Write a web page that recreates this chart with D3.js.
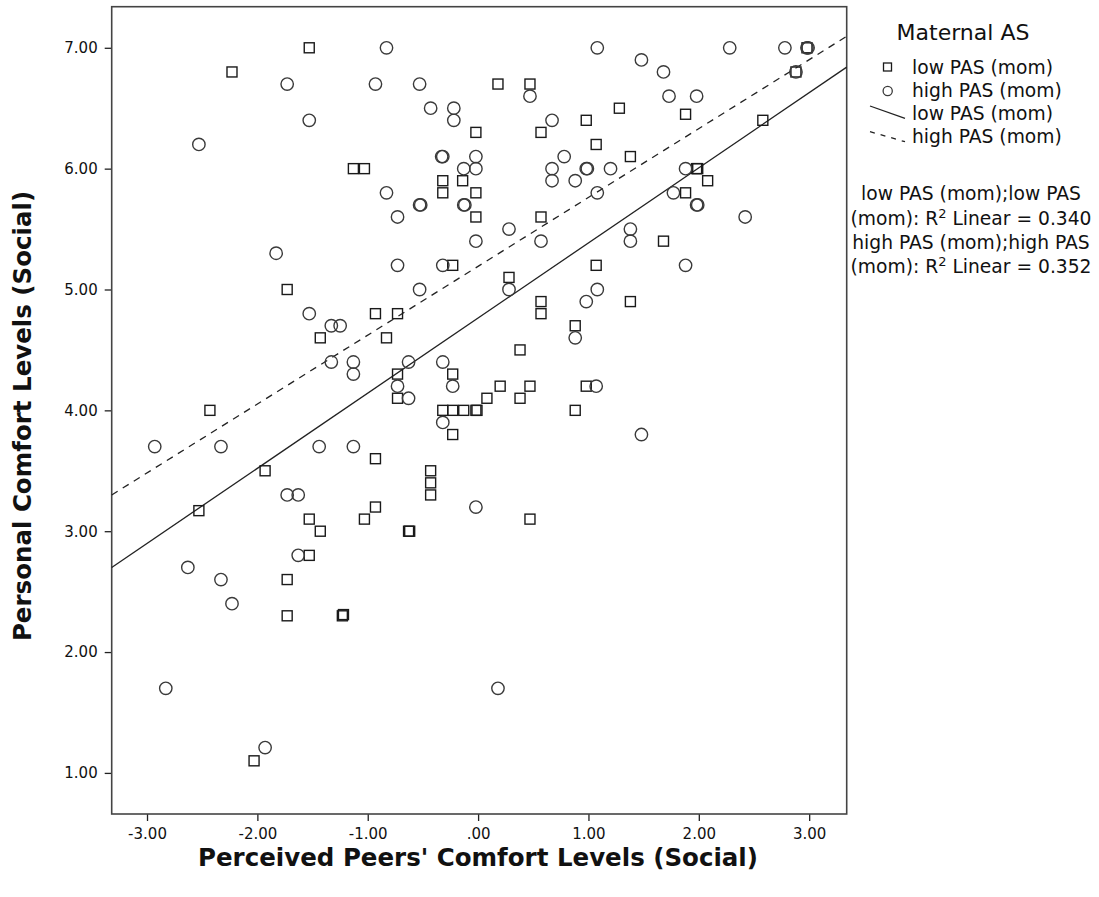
<!DOCTYPE html>
<html>
<head>
<meta charset="utf-8">
<script src="https://cdn.jsdelivr.net/npm/d3@7"></script>
<style>
  body { margin: 0; background: #fff; }
  svg { display: block; font-family: "DejaVu Sans", sans-serif; }
</style>
</head>
<body>
<div id="chart"></div>
<script>
// low PAS (mom) -> squares, [peers, personal]
const lowPAS = [
  [-1.53, 7.0], [-2.23, 6.8], [-1.13, 6.0], [-1.03, 6.0], [0.18, 6.7], [0.47, 6.7],
  [0.98, 6.4], [-0.02, 6.3], [0.57, 6.3], [1.07, 6.2], [-0.32, 5.9], [-0.14, 5.9],
  [-0.32, 5.8], [-0.02, 5.8], [-0.02, 5.6], [0.57, 5.6], [-0.23, 5.2], [0.28, 5.1],
  [1.07, 5.2], [2.88, 6.8], [2.98, 7.0], [1.28, 6.5], [1.88, 6.45], [2.58, 6.4],
  [1.38, 6.1], [1.98, 6.0], [1.99, 6.0], [2.08, 5.9], [1.88, 5.8], [1.68, 5.4],
  [-1.73, 5.0], [-1.43, 4.6], [-2.43, 4.0], [-1.93, 3.5], [-2.53, 3.17], [-1.53, 3.1],
  [-1.43, 3.0], [-1.03, 3.1], [0.57, 4.9], [0.57, 4.8], [0.88, 4.7], [-0.93, 4.8],
  [-0.73, 4.8], [-0.83, 4.6], [-0.73, 4.3], [-0.23, 4.3], [-0.73, 4.1], [0.2, 4.2],
  [0.47, 4.2], [0.98, 4.2], [0.08, 4.1], [0.38, 4.1], [0.38, 4.5], [-0.32, 4.0],
  [-0.23, 4.0], [-0.13, 4.0], [-0.02, 4.0], [-0.01, 4.0], [0.88, 4.0], [-0.23, 3.8],
  [-0.93, 3.6], [-0.43, 3.5], [-0.43, 3.4], [-0.43, 3.3], [-0.93, 3.2], [-0.63, 3.0],
  [-0.62, 3.0], [0.47, 3.1], [-1.53, 2.8], [-1.73, 2.6], [-1.73, 2.3], [-1.23, 2.3],
  [-1.22, 2.31], [-2.03, 1.1], [1.38, 4.9]
];

// high PAS (mom) -> circles
const highPAS = [
  [-1.73, 6.7], [-1.53, 6.4], [-2.53, 6.2], [-1.83, 5.3], [-0.83, 7.0], [1.08, 7.0],
  [-0.93, 6.7], [-0.53, 6.7], [0.47, 6.6], [-0.43, 6.5], [-0.22, 6.5], [-0.22, 6.4],
  [0.67, 6.4], [-0.33, 6.1], [-0.32, 6.1], [-0.02, 6.1], [0.78, 6.1], [-0.13, 6.0],
  [-0.02, 6.0], [0.67, 6.0], [0.98, 6.0], [0.99, 6.0], [0.67, 5.9], [0.88, 5.9],
  [1.08, 5.8], [-0.83, 5.8], [-0.53, 5.7], [-0.52, 5.7], [-0.13, 5.7], [-0.12, 5.7],
  [-0.73, 5.6], [0.28, 5.5], [-0.02, 5.4], [0.57, 5.4], [-0.73, 5.2], [-0.32, 5.2],
  [0.28, 5.0], [2.28, 7.0], [2.78, 7.0], [2.98, 7.0], [2.99, 7.0], [1.48, 6.9],
  [1.68, 6.8], [2.88, 6.8], [1.73, 6.6], [1.98, 6.6], [1.2, 6.0], [1.88, 6.0],
  [1.77, 5.8], [1.98, 5.7], [1.99, 5.7], [2.42, 5.6], [1.38, 5.5], [1.38, 5.4],
  [1.88, 5.2], [-1.53, 4.8], [-1.33, 4.7], [-1.25, 4.7], [-1.33, 4.4], [-1.13, 4.4],
  [-1.13, 4.3], [-2.93, 3.7], [-2.33, 3.7], [-1.44, 3.7], [-1.13, 3.7], [-1.73, 3.3],
  [-1.63, 3.3], [-0.53, 5.0], [0.98, 4.9], [0.88, 4.6], [-0.63, 4.4], [-0.32, 4.4],
  [-0.73, 4.2], [-0.23, 4.2], [-0.63, 4.1], [1.07, 4.2], [-0.32, 3.9], [-0.02, 3.2],
  [-1.63, 2.8], [-2.63, 2.7], [-2.33, 2.6], [-2.23, 2.4], [-2.83, 1.7], [-1.93, 1.21],
  [0.18, 1.7], [1.08, 5.0], [1.48, 3.8]
];

// fit lines read at the plot edges
const fitLow = [[-3.32, 2.70], [3.34, 6.84]];
const fitHigh = [[-3.32, 3.30], [3.34, 7.095]];

const xTicks = [-3, -2, -1, 0, 1, 2, 3];
const yTicks = [1, 2, 3, 4, 5, 6, 7];
const legendTitle = "Maternal AS";
const legendLabels = ["low PAS (mom)", "high PAS (mom)", "low PAS (mom)", "high PAS (mom)"];
const r2Lines = [
  ["low PAS (mom);low PAS"],
  ["(mom): R", "2", " Linear = 0.340"],
  ["high PAS (mom);high PAS"],
  ["(mom): R", "2", " Linear = 0.352"]
];

const W = 1099, H = 897;
const plot = { left: 111.7, top: 6.7, right: 846.7, bottom: 814 };

const svg = d3.select("#chart").append("svg")
  .attr("width", W).attr("height", H);

const x = d3.scaleLinear().domain([-3.32, 3.34]).range([plot.left, plot.right]);
const y = d3.scaleLinear().domain([0.66, 7.34]).range([plot.bottom, plot.top]);

const fmt = (v) => (v === 0 ? ".00" : v.toFixed(2));
const ink = "#222";

// axes
const xAxis = svg.append("g")
  .attr("transform", `translate(0,${plot.bottom})`)
  .call(d3.axisBottom(x).tickValues(xTicks).tickFormat(fmt).tickSize(7).tickPadding(7));
const yAxis = svg.append("g")
  .attr("transform", `translate(${plot.left},0)`)
  .call(d3.axisLeft(y).tickValues(yTicks).tickFormat(fmt).tickSize(7).tickPadding(7));
[xAxis, yAxis].forEach((g) => {
  g.select(".domain").remove();
  g.selectAll(".tick line").attr("stroke", ink).attr("stroke-width", 1.3);
  g.selectAll(".tick text")
    .attr("fill", "#111")
    .style("font-family", "DejaVu Sans, sans-serif")
    .style("font-size", "15px");
});

// frame
svg.append("rect")
  .attr("x", plot.left).attr("y", plot.top)
  .attr("width", plot.right - plot.left).attr("height", plot.bottom - plot.top)
  .attr("fill", "none").attr("stroke", "#444").attr("stroke-width", 1.6);

const chart = svg.append("g");

// fit lines
const line = d3.line().x((d) => x(d[0])).y((d) => y(d[1]));
chart.append("path").datum(fitLow)
  .attr("d", line).attr("fill", "none").attr("stroke", ink).attr("stroke-width", 1.3);
chart.append("path").datum(fitHigh)
  .attr("d", line).attr("fill", "none").attr("stroke", ink).attr("stroke-width", 1.3)
  .attr("stroke-dasharray", "7,6");

// points
const sq = 10;
chart.selectAll("rect.low").data(lowPAS).join("rect")
  .attr("class", "low")
  .attr("x", (d) => x(d[0]) - sq / 2)
  .attr("y", (d) => y(d[1]) - sq / 2)
  .attr("width", sq).attr("height", sq)
  .attr("fill", "none").attr("stroke", "#1a1a1a").attr("stroke-width", 1.4);

chart.selectAll("circle.high").data(highPAS).join("circle")
  .attr("class", "high")
  .attr("cx", (d) => x(d[0]))
  .attr("cy", (d) => y(d[1]))
  .attr("r", 6.2)
  .attr("fill", "none").attr("stroke", "#3a3a3a").attr("stroke-width", 1.4);

// axis titles
svg.append("text")
  .attr("x", 478)
  .attr("y", 866)
  .attr("text-anchor", "middle")
  .style("font-weight", "bold")
  .style("font-size", "24.5px")
  .attr("fill", "#111")
  .text("Perceived Peers' Comfort Levels (Social)");

svg.append("text")
  .attr("transform", `translate(31,416) rotate(-90)`)
  .attr("text-anchor", "middle")
  .style("font-weight", "bold")
  .style("font-size", "24.5px")
  .attr("fill", "#111")
  .text("Personal Comfort Levels (Social)");

// legend
const legend = svg.append("g").style("font-size", "18.7px").attr("fill", "#111");
legend.append("text")
  .attr("x", 963).attr("y", 40)
  .attr("text-anchor", "middle")
  .style("font-size", "22px")
  .text(legendTitle);

const rowY = [74, 97, 120, 142.5];
legendLabels.forEach((lab, i) => {
  legend.append("text").attr("x", 912).attr("y", rowY[i]).text(lab);
});
legend.append("rect")
  .attr("x", 883.5).attr("y", 63).attr("width", 8).attr("height", 8)
  .attr("fill", "none").attr("stroke", "#1a1a1a").attr("stroke-width", 1.3);
legend.append("circle")
  .attr("cx", 887.7).attr("cy", 91).attr("r", 4.6)
  .attr("fill", "none").attr("stroke", "#3a3a3a").attr("stroke-width", 1.3);
legend.append("line")
  .attr("x1", 870).attr("y1", 106).attr("x2", 905).attr("y2", 118.3)
  .attr("stroke", ink).attr("stroke-width", 1.3);
legend.append("line")
  .attr("x1", 870).attr("y1", 131.7).attr("x2", 905).attr("y2", 141.7)
  .attr("stroke", ink).attr("stroke-width", 1.3)
  .attr("stroke-dasharray", "5,6");

const r2 = svg.append("g").style("font-size", "18.7px").attr("fill", "#111");
const r2Y = [200, 224.5, 248.5, 273];
r2Lines.forEach((parts, i) => {
  const t = r2.append("text").attr("x", 971).attr("y", r2Y[i]).attr("text-anchor", "middle");
  t.append("tspan").text(parts[0]);
  if (parts.length > 1) {
    t.append("tspan").attr("dy", -7).style("font-size", "13px").text(parts[1]);
    t.append("tspan").attr("dy", 7).text(parts[2]);
  }
});
</script>
</body>
</html>
